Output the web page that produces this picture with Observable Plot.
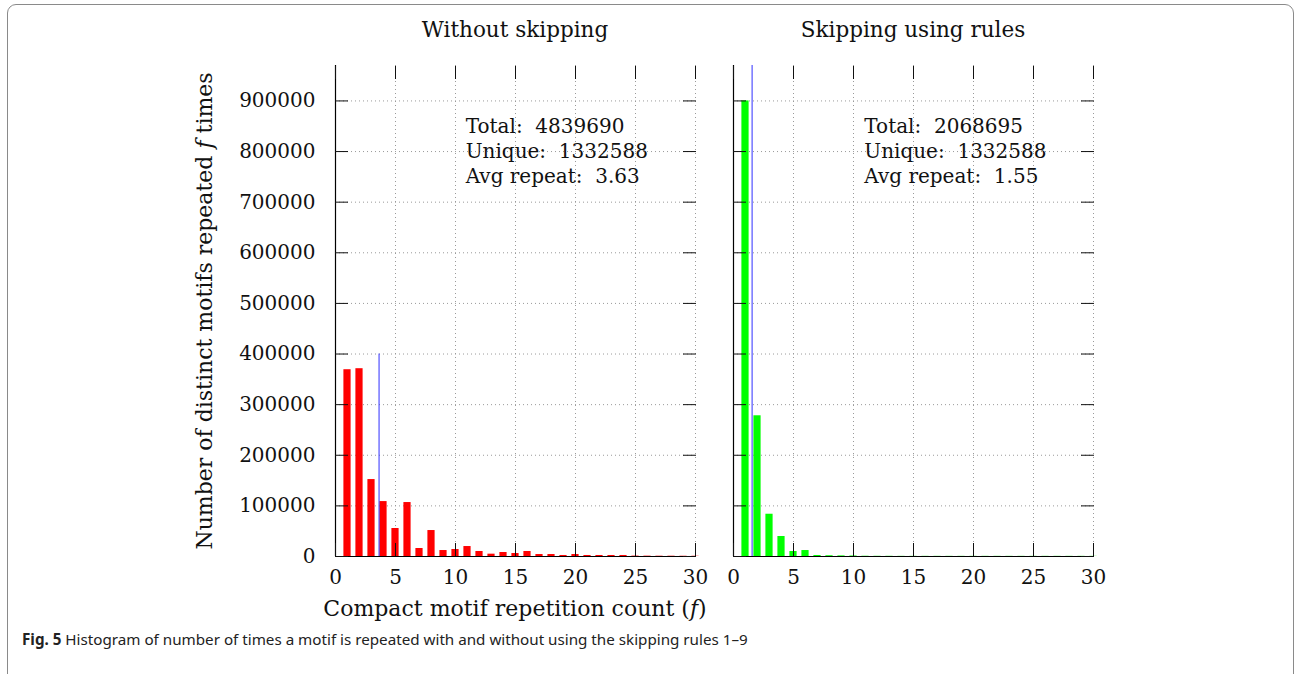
<!DOCTYPE html>
<html>
<head>
<meta charset="utf-8">
<script src="https://cdn.jsdelivr.net/npm/d3@7"></script>
<script src="https://cdn.jsdelivr.net/npm/@observablehq/plot@0.6"></script>
<style>
  body { margin: 0; background: #fff; }
  #fig { position: relative; width: 1294px; height: 674px; overflow: hidden; font-family: "DejaVu Serif", serif; color: #111; }
  #frame { position: absolute; left: 7px; top: 4px; width: 1287px; height: 720px; border: 1.5px solid #8a8a8a; border-radius: 9px; box-sizing: border-box; }
  .title { position: absolute; top: 17px; font-size: 21.5px; line-height: 26px; transform: translateX(-50%); white-space: nowrap; }
  #xlabel { position: absolute; left: 515px; top: 596px; font-size: 22px; line-height: 26px; transform: translateX(-50%); white-space: nowrap; }
  #ylabel { position: absolute; left: 205px; top: 311px; font-size: 22px; line-height: 26px; transform: translate(-50%, -50%) rotate(-90deg); white-space: nowrap; }
  #caption { position: absolute; left: 22px; top: 629px; font-family: "Noto Sans", sans-serif; font-size: 15.2px; color: #222; white-space: nowrap; }
  .panel { position: absolute; top: 50px; }
</style>
</head>
<body>
<div id="fig">
  <div id="frame"></div>
  <div class="title" id="t0" style="left:515px"></div>
  <div class="title" id="t1" style="left:913px"></div>
  <div class="panel" id="p0" style="left:180px"></div>
  <div class="panel" id="p1" style="left:713px"></div>
  <div id="ylabel">Number of distinct motifs repeated <i>f</i> times</div>
  <div id="xlabel">Compact motif repetition count (<i>f</i>)</div>
  <div id="caption"><b>Fig. 5</b> Histogram of number of times a motif is repeated with and without using the skipping rules 1–9</div>
</div>
<script>
// ---- data ----
const repetitionCounts = [1, 2, 3, 4, 5, 6, 7, 8, 9, 10, 11, 12, 13, 14, 15, 16, 17, 18, 19, 20, 21, 22, 23, 24, 25, 26, 27, 28, 29, 30];
const motifsWithoutSkipping = [369000, 371000, 152000, 108500, 55300, 106600, 15800, 51300, 11800, 13800, 19700, 9900, 4600, 7900, 5900, 9900, 3900, 3900, 2000, 3900, 2000, 2000, 2000, 2000, 800, 700, 600, 600, 500, 500];
const motifsSkippingRules = [900000, 278000, 83500, 39500, 9900, 11800, 2000, 1500, 1200, 1000, 500, 400, 400, 300, 300, 300, 300, 300, 300, 300, 300, 300, 300, 300, 300, 300, 300, 300, 300, 300];
const panelTitles = ["Without skipping", "Skipping using rules"];
const totals = ["4839690", "2068695"];
const uniques = ["1332588", "1332588"];
const avgRepeats = ["3.63", "1.55"];
const avgLineTops = [400000, 970000];
const annotationX = [10.85, 10.9];
const annotationY = 872000;
const xTicks = [0, 5, 10, 15, 20, 25, 30];
const yTicks = [0, 100000, 200000, 300000, 400000, 500000, 600000, 700000, 800000, 900000];
const barColors = ["#ff0000", "#00ff00"];

function panel(i, counts, showY) {
  const data = repetitionCounts.map((f, j) => ({f, count: counts[j]}));
  const avg = +avgRepeats[i];
  const gridStyle = {stroke: "#9a9a9a", strokeOpacity: 1, strokeDasharray: "1,3", strokeWidth: 1};
  return Plot.plot({
    width: showY ? 525 : 390,
    height: 580,
    marginLeft: showY ? 155 : 20,
    marginRight: 10,
    marginTop: 15,
    marginBottom: 74,
    x: {domain: [0, 30]},
    y: {domain: [0, 970000]},
    style: {fontFamily: "DejaVu Serif, serif", fontSize: "20px", background: "transparent", overflow: "visible", color: "#111"},
    marks: [
      Plot.gridX(xTicks.slice(1), gridStyle),
      Plot.gridY(yTicks.slice(1), gridStyle),
      Plot.rectY(data, {x1: d => d.f - 0.3, x2: d => d.f + 0.3, y: "count", fill: barColors[i]}),
      Plot.ruleX([avg], {y1: 0, y2: avgLineTops[i], stroke: "#2f2fff", strokeWidth: 1}),
      Plot.text([`Total:\u00a0 ${totals[i]}\nUnique:\u00a0 ${uniques[i]}\nAvg repeat:\u00a0 ${avgRepeats[i]}`], {
        x: annotationX[i], y: annotationY, text: d => d, textAnchor: "start", lineAnchor: "top",
        lineHeight: 1.25, fontSize: 20, fill: "#111"
      }),
      Plot.ruleX([0], {stroke: "#000", strokeWidth: 1.2}),
      Plot.ruleY([0], {stroke: "#000", strokeWidth: 1.2}),
      Plot.axisX(xTicks, {anchor: "bottom", tickSize: -13, tickPadding: 26, tickFormat: d => String(d), label: null, fontSize: 20}),
      Plot.axisX(xTicks, {anchor: "top", tickSize: -13, tickFormat: () => "", label: null}),
      Plot.axisY(yTicks, {anchor: "left", tickSize: -13, tickPadding: showY ? 33 : 0, tickFormat: showY ? (d => String(d)) : (() => ""), label: null, fontSize: 20}),
      Plot.axisY(yTicks, {anchor: "right", tickSize: -13, tickFormat: () => "", label: null})
    ]
  });
}

document.getElementById("t0").textContent = panelTitles[0];
document.getElementById("t1").textContent = panelTitles[1];
document.getElementById("p0").append(panel(0, motifsWithoutSkipping, true));
document.getElementById("p1").append(panel(1, motifsSkippingRules, false));
</script>
</body>
</html>
